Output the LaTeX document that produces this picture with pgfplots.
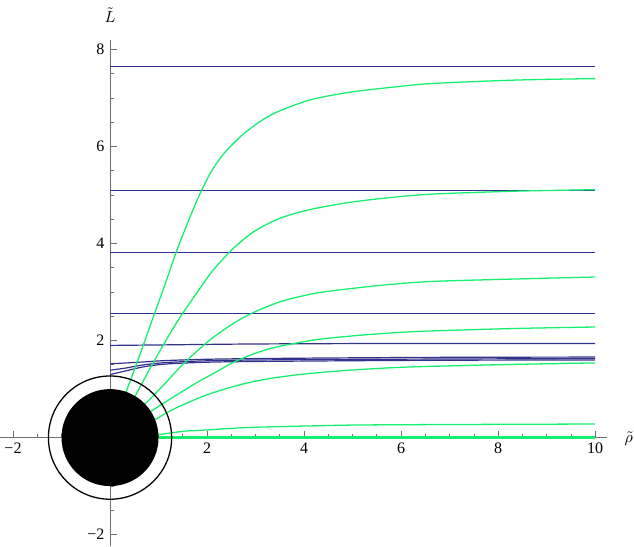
\documentclass[border=0pt]{standalone}
\usepackage{fontspec}
\setmainfont{Liberation Serif}
\usepackage{pgfplots}
\pgfplotsset{compat=1.18}
\definecolor{mblue}{RGB}{50,50,140}
\definecolor{mgreen}{RGB}{20,240,110}
\definecolor{axgray}{RGB}{110,110,110}
\begin{document}
\begin{tikzpicture}
\begin{axis}[
  x=30.3pt, y=30.3pt,
  xmin=-2.27, xmax=10.25, ymin=-2.24, ymax=8.2,
  axis lines=middle,
  axis line style={-, axgray, line width=0.6pt},
  every tick/.style={axgray, line width=0.5pt},
  tick align=inside,
  major tick length=4.4pt, minor tick length=2.5pt,
  xtick={-2,0,2,4,6,8,10}, xticklabels={−2,,2,4,6,8,10},
  ytick={-2,0,2,4,6,8}, yticklabels={−2,,2,4,6,8},
  minor xtick={-2,-1.5,...,10}, minor ytick={-2,-1.5,...,8},
  tick label style={font=\fontsize{10}{12}\selectfont, text=black},
  clip=false,
  axis on top=false,
]
% Minkowski embeddings (blue)
\addplot[mblue, line width=0.75pt] coordinates {(0,7.65) (10,7.65)};
\addplot[mblue, line width=0.75pt] coordinates {(0,5.10) (10,5.10)};
\addplot[mblue, line width=0.75pt] coordinates {(0,3.82) (10,3.82)};
\addplot[mblue, line width=0.75pt] coordinates {(0,2.55) (10,2.55)};
\addplot[mblue, line width=0.75pt, smooth] coordinates {(0,1.90) (1,1.91) (3,1.93) (6,1.94) (10,1.94)};
\addplot[mblue, line width=0.75pt, smooth] coordinates {(0,1.52) (0.7,1.56) (1.2,1.59) (2.27,1.62) (4.33,1.64) (7,1.655) (10,1.66)};
\addplot[mblue, line width=0.75pt, smooth] coordinates {(0,1.39) (0.3,1.43) (0.7,1.50) (1.2,1.55) (2.27,1.59) (4.33,1.61) (7,1.62) (10,1.63)};
\addplot[mblue, line width=0.75pt, smooth] coordinates {(0,1.30) (0.3,1.37) (0.7,1.46) (1.2,1.52) (2.27,1.56) (4.33,1.58) (7,1.595) (10,1.60)};
% black hole embeddings (green)
\addplot[mgreen, line width=0.8pt, smooth] coordinates {(0.33,0.94) (0.62,1.72) (0.86,2.40) (1.12,3.12) (1.37,3.84) (1.55,4.30) (1.72,4.72) (1.88,5.08) (2.05,5.42) (2.2,5.66) (2.35,5.86) (2.5,6.02) (2.75,6.26) (3.1,6.52) (3.44,6.71) (4.12,6.96) (4.95,7.12) (5.8,7.22) (6.66,7.30) (8.38,7.37) (10,7.40)};
\addplot[mgreen, line width=0.8pt, smooth] coordinates {(0.52,0.86) (0.8,1.38) (1.07,1.86) (1.41,2.43) (1.8,3.00) (2.1,3.42) (2.42,3.78) (2.72,4.06) (3.02,4.28) (3.5,4.52) (4.12,4.70) (4.95,4.85) (5.8,4.95) (6.66,5.02) (8.38,5.08) (10,5.11)};
\addplot[mgreen, line width=0.8pt, smooth] coordinates {(0.72,0.69) (1.1,1.08) (1.51,1.52) (1.96,1.93) (2.2,2.12) (2.6,2.39) (3.0,2.60) (3.57,2.82) (4.26,2.98) (4.95,3.07) (5.8,3.16) (6.66,3.22) (8.38,3.27) (10,3.31)};
\addplot[mgreen, line width=0.8pt, smooth] coordinates {(0.84,0.54) (1.31,0.84) (1.75,1.11) (2.2,1.36) (2.54,1.55) (3.0,1.74) (3.4,1.86) (3.9,1.96) (4.33,2.03) (5.15,2.11) (6.0,2.17) (6.66,2.20) (8.38,2.25) (10,2.28)};
\addplot[mgreen, line width=0.8pt, smooth] coordinates {(0.93,0.37) (1.2,0.53) (1.51,0.68) (1.99,0.88) (2.5,1.04) (2.89,1.14) (3.37,1.23) (4.0,1.31) (4.8,1.38) (5.8,1.44) (6.66,1.47) (8.38,1.51) (10,1.54)};
\addplot[mgreen, line width=0.8pt, smooth] coordinates {(0.998,0.06) (1.51,0.13) (1.86,0.15) (2.89,0.21) (4.33,0.245) (5.15,0.26) (7,0.27) (10,0.28)};
\addplot[mgreen, line width=1.4pt] coordinates {(1,0.0) (10,0.0)};
% horizon
\fill[black] (axis cs:0,0) circle[radius=1];
\draw[black, line width=0.8pt] (axis cs:0,0) circle[radius=1.27];
% axis labels
\node at (axis cs:10.69,-0.02) {$\tilde{\rho}$};
\node at (axis cs:0.0,8.71) {$\tilde{L}$};
\coordinate (bl) at (axis cs:-2.268,-2.24);
\coordinate (tr) at (axis cs:10.80,9.02);
\end{axis}
\pgfresetboundingbox
\path (bl) rectangle (tr);
\end{tikzpicture}
\end{document}
